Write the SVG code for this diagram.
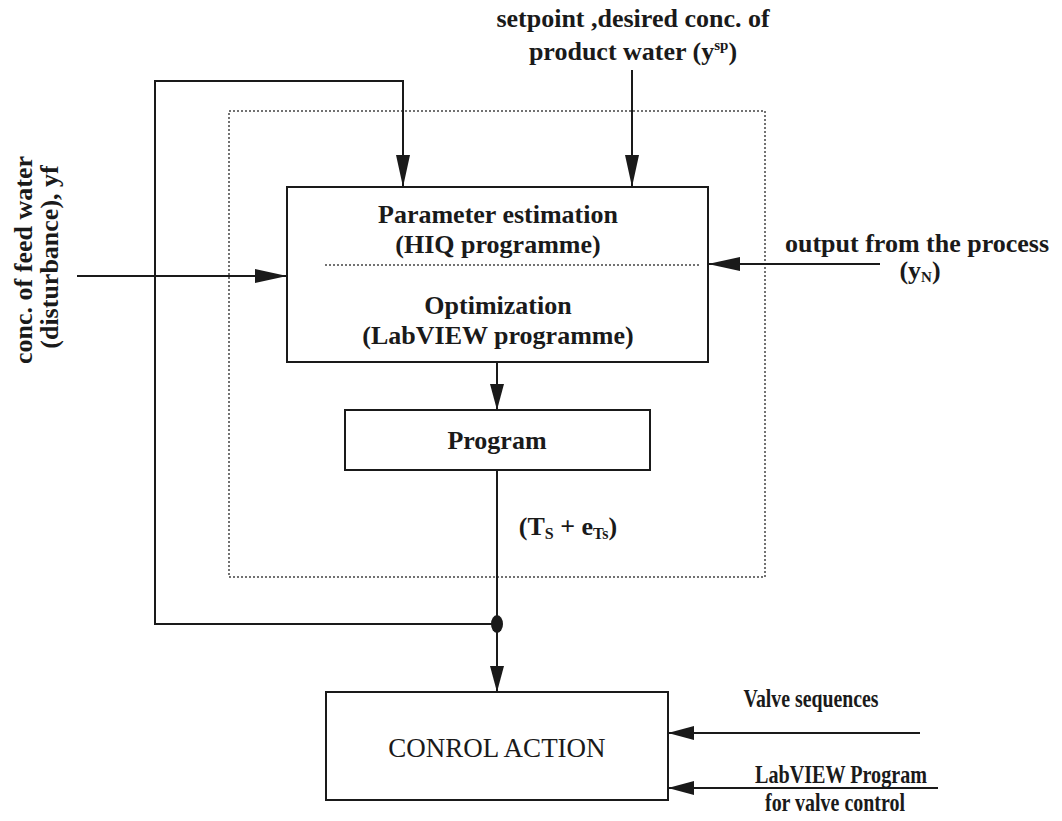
<svg xmlns="http://www.w3.org/2000/svg" width="1062" height="821" viewBox="0 0 1062 821">
  <style>
    .box { fill: none; stroke: #1a1a1a; stroke-width: 2; }
    .dot { fill: none; stroke: #444; stroke-width: 1.5; stroke-dasharray: 2 2; }
    .wire { fill: none; stroke: #1a1a1a; stroke-width: 2; }
    .t { font-family: "Liberation Serif", serif; font-size: 26px; font-weight: bold; fill: #1a1a1a; }
    .ts { font-family: "Liberation Serif", serif; font-size: 25px; font-weight: bold; fill: #1a1a1a; }
    .tr { font-family: "Liberation Serif", serif; font-size: 27px; fill: #1a1a1a; }
  </style>
  <defs>
    <marker id="arr" viewBox="0 0 32 14" refX="32" refY="7" markerWidth="32" markerHeight="14" markerUnits="userSpaceOnUse" orient="auto">
      <path d="M0,0 L32,7 L0,14 z" fill="#1a1a1a"/>
    </marker>
    <marker id="arrs" viewBox="0 0 26 14" refX="26" refY="7" markerWidth="26" markerHeight="14" markerUnits="userSpaceOnUse" orient="auto">
      <path d="M0,0 L26,7 L0,14 z" fill="#1a1a1a"/>
    </marker>
  </defs>
  <rect width="1062" height="821" fill="#ffffff"/>

  <!-- controller boundary -->
  <rect id="controller" class="dot" x="229" y="111" width="536" height="466"/>

  <g id="estimation">
    <rect class="box" x="287" y="187" width="421" height="175"/>
    <line class="dot" x1="325" y1="265" x2="700" y2="265"/>
    <text class="t" x="498" y="223" text-anchor="middle">Parameter estimation</text>
    <text class="t" x="498" y="253" text-anchor="middle">(HIQ programme)</text>
    <text class="t" x="498" y="314" text-anchor="middle">Optimization</text>
    <text class="t" x="498" y="344" text-anchor="middle">(LabVIEW programme)</text>
  </g>

  <g id="program">
    <rect class="box" x="345" y="410" width="305" height="60"/>
    <text class="t" x="497" y="449" text-anchor="middle">Program</text>
  </g>

  <g id="control-action">
    <rect class="box" x="326" y="692" width="342" height="108"/>
    <text class="tr" x="497" y="757" text-anchor="middle">CONROL ACTION</text>
  </g>

  <g id="connectors">
    <!-- feedback loop to estimation -->
    <polyline class="wire" points="497,624 155,624 155,81 403,81 403,187" marker-end="url(#arr)"/>
    <!-- setpoint -->
    <line class="wire" x1="632" y1="70" x2="632" y2="187" marker-end="url(#arr)"/>
    <!-- feed water disturbance -->
    <line class="wire" x1="77" y1="276" x2="287" y2="276" marker-end="url(#arr)"/>
    <!-- process output -->
    <line class="wire" x1="880" y1="264" x2="708" y2="264" marker-end="url(#arr)"/>
    <!-- estimation to program -->
    <line class="wire" x1="497" y1="362" x2="497" y2="410" marker-end="url(#arrs)"/>
    <!-- program to control action -->
    <line class="wire" x1="497" y1="470" x2="497" y2="692" marker-end="url(#arrs)"/>
    <ellipse cx="497" cy="624" rx="6" ry="9" fill="#1a1a1a"/>
    <!-- valve inputs -->
    <line class="wire" x1="920" y1="733" x2="668" y2="733" marker-end="url(#arrs)"/>
    <line class="wire" x1="938" y1="788" x2="668" y2="788" marker-end="url(#arrs)"/>
  </g>

  <g id="labels">
    <text class="t" x="633" y="27" text-anchor="middle">setpoint ,desired conc. of</text>
    <text class="t" x="633" y="60" text-anchor="middle">product water (y<tspan font-size="15" dy="-10">sp</tspan><tspan dy="10">)</tspan></text>
    <text class="t" x="917" y="252" text-anchor="middle">output from the process</text>
    <text class="t" x="920" y="279" text-anchor="middle">(y<tspan font-size="15" dy="3">N</tspan><tspan dy="-3">)</tspan></text>
    <text class="t" x="568" y="535" text-anchor="middle">(T<tspan font-size="16" dy="4">S</tspan><tspan dy="-4"> + e</tspan><tspan font-size="16" dy="4">Ts</tspan><tspan dy="-4">)</tspan></text>
    <text class="t" transform="translate(32,260) rotate(-90)" text-anchor="middle">conc. of feed water</text>
    <text class="t" transform="translate(58,257) rotate(-90)" text-anchor="middle">(disturbance), yf</text>
    <text class="ts" x="811" y="707" text-anchor="middle" textLength="135" lengthAdjust="spacingAndGlyphs">Valve sequences</text>
    <text class="ts" x="841" y="783" text-anchor="middle" textLength="172" lengthAdjust="spacingAndGlyphs">LabVIEW Program</text>
    <text class="ts" x="835" y="811" text-anchor="middle" textLength="140" lengthAdjust="spacingAndGlyphs">for valve control</text>
  </g>
</svg>
